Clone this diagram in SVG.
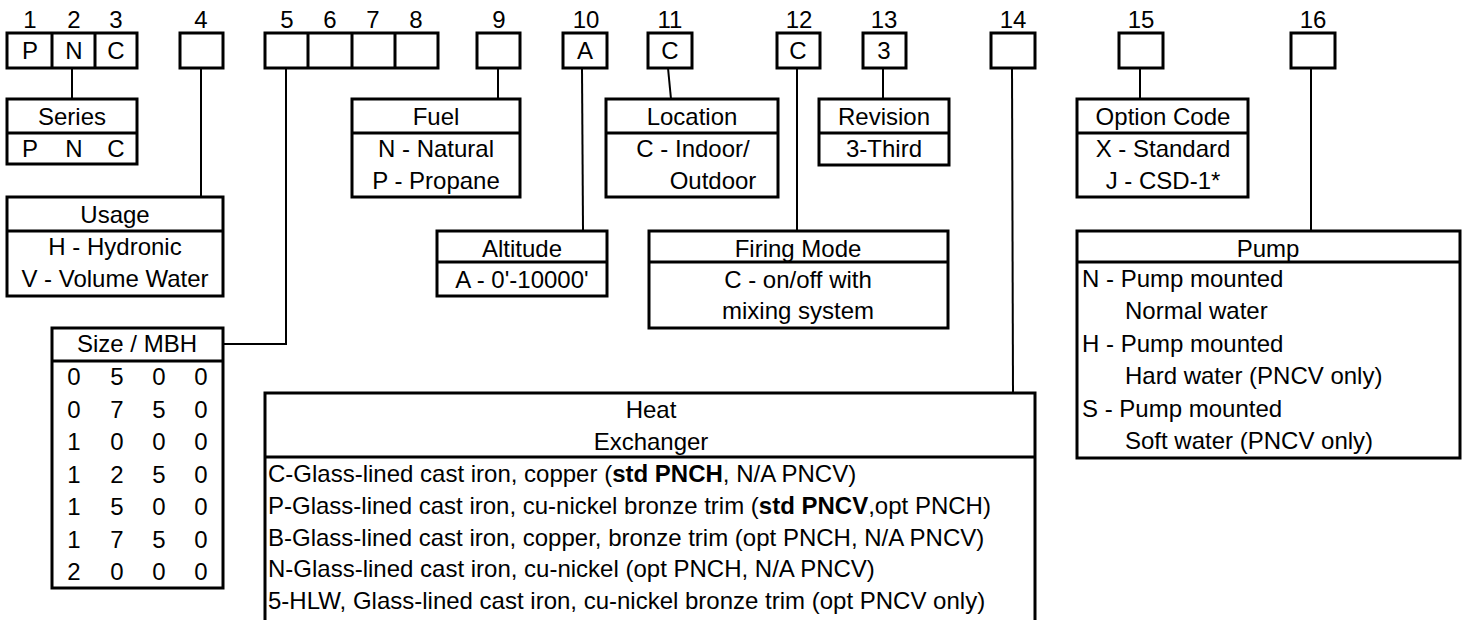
<svg xmlns="http://www.w3.org/2000/svg" width="1470" height="620" viewBox="0 0 1470 620">
<style>
text{font-family:"Liberation Sans",Arial,sans-serif;font-size:24px;fill:#000}
.c{text-anchor:middle}
.b{font-weight:bold}
.box{fill:#fff;stroke:#000;stroke-width:3}
.div{stroke:#000;stroke-width:3;fill:none}
.con{stroke:#000;stroke-width:2;fill:none}
</style>
<rect width="1470" height="620" fill="#fff"/>
<g id="connectors">
<path class="con" d="M72 68V99"/>
<path class="con" d="M201 68V197"/>
<path class="con" d="M286 68V344H223"/>
<path class="con" d="M498 68V99"/>
<path class="con" d="M582 68L583 231"/>
<path class="con" d="M668 68L671 99"/>
<path class="con" d="M797 68V231"/>
<path class="con" d="M883 68V99"/>
<path class="con" d="M1012 68L1013 393"/>
<path class="con" d="M1140 68V99"/>
<path class="con" d="M1311 68V231"/>
</g>
<g id="positions">
<text class="c" x="30" y="28">1</text>
<text class="c" x="74" y="28">2</text>
<text class="c" x="116" y="28">3</text>
<text class="c" x="201" y="28">4</text>
<text class="c" x="287" y="28">5</text>
<text class="c" x="330" y="28">6</text>
<text class="c" x="373" y="28">7</text>
<text class="c" x="416" y="28">8</text>
<text class="c" x="499" y="28">9</text>
<text class="c" x="586" y="28">10</text>
<text class="c" x="670" y="28">11</text>
<text class="c" x="799" y="28">12</text>
<text class="c" x="884" y="28">13</text>
<text class="c" x="1013" y="28">14</text>
<text class="c" x="1141" y="28">15</text>
<text class="c" x="1313" y="28">16</text>
</g>
<g id="code-1-3">
<rect class="box" x="7" y="33" width="130" height="35"/>
<path class="div" d="M52 33V68M95 33V68"/>
<text class="c" x="30" y="59">P</text>
<text class="c" x="74" y="59">N</text>
<text class="c" x="116" y="59">C</text>
</g>
<g id="code-4"><rect class="box" x="180" y="33" width="43" height="35"/></g>
<g id="code-5-8">
<rect class="box" x="265" y="33" width="173" height="35"/>
<path class="div" d="M308 33V68M352 33V68M395 33V68"/>
</g>
<g id="code-9"><rect class="box" x="477" y="33" width="43" height="35"/></g>
<g id="code-10"><rect class="box" x="563" y="33" width="44" height="35"/><text class="c" x="585" y="59">A</text></g>
<g id="code-11"><rect class="box" x="648" y="33" width="44" height="35"/><text class="c" x="670" y="59">C</text></g>
<g id="code-12"><rect class="box" x="777" y="33" width="43" height="35"/><text class="c" x="798" y="59">C</text></g>
<g id="code-13"><rect class="box" x="863" y="33" width="43" height="35"/><text class="c" x="884" y="59">3</text></g>
<g id="code-14"><rect class="box" x="991" y="33" width="44" height="35"/></g>
<g id="code-15"><rect class="box" x="1119" y="33" width="44" height="35"/></g>
<g id="code-16"><rect class="box" x="1291" y="33" width="44" height="35"/></g>

<g id="series">
<rect class="box" x="7" y="99" width="130" height="65"/>
<path class="div" d="M7 133H137"/>
<text class="c" x="72" y="125">Series</text>
<text class="c" x="30" y="157">P</text>
<text class="c" x="74" y="157">N</text>
<text class="c" x="116" y="157">C</text>
</g>
<g id="usage">
<rect class="box" x="7" y="197" width="216" height="99"/>
<path class="div" d="M7 231H223"/>
<text class="c" x="115" y="223">Usage</text>
<text class="c" x="115" y="255">H - Hydronic</text>
<text class="c" x="115" y="287">V - Volume Water</text>
</g>
<g id="size">
<rect class="box" x="52" y="328" width="171" height="260"/>
<path class="div" d="M52 361H223"/>
<text class="c" x="137" y="352">Size / MBH</text>
<text class="c" x="74" y="385">0</text><text class="c" x="117" y="385">5</text><text class="c" x="159" y="385">0</text><text class="c" x="201" y="385">0</text>
<text class="c" x="74" y="418">0</text><text class="c" x="117" y="418">7</text><text class="c" x="159" y="418">5</text><text class="c" x="201" y="418">0</text>
<text class="c" x="74" y="450">1</text><text class="c" x="117" y="450">0</text><text class="c" x="159" y="450">0</text><text class="c" x="201" y="450">0</text>
<text class="c" x="74" y="483">1</text><text class="c" x="117" y="483">2</text><text class="c" x="159" y="483">5</text><text class="c" x="201" y="483">0</text>
<text class="c" x="74" y="515">1</text><text class="c" x="117" y="515">5</text><text class="c" x="159" y="515">0</text><text class="c" x="201" y="515">0</text>
<text class="c" x="74" y="548">1</text><text class="c" x="117" y="548">7</text><text class="c" x="159" y="548">5</text><text class="c" x="201" y="548">0</text>
<text class="c" x="74" y="580">2</text><text class="c" x="117" y="580">0</text><text class="c" x="159" y="580">0</text><text class="c" x="201" y="580">0</text>
</g>
<g id="fuel">
<rect class="box" x="352" y="99" width="168" height="98"/>
<path class="div" d="M352 133H520"/>
<text class="c" x="436" y="125">Fuel</text>
<text class="c" x="436" y="157">N - Natural</text>
<text class="c" x="436" y="189">P - Propane</text>
</g>
<g id="location">
<rect class="box" x="606" y="99" width="172" height="98"/>
<path class="div" d="M606 133H778"/>
<text class="c" x="692" y="125">Location</text>
<text class="c" x="693" y="157">C - Indoor/</text>
<text class="c" x="713" y="189">Outdoor</text>
</g>
<g id="revision">
<rect class="box" x="819" y="99" width="130" height="66"/>
<path class="div" d="M819 133H949"/>
<text class="c" x="884" y="125">Revision</text>
<text class="c" x="884" y="157">3-Third</text>
</g>
<g id="option-code">
<rect class="box" x="1077" y="99" width="171" height="98"/>
<path class="div" d="M1077 133H1248"/>
<text class="c" x="1163" y="125">Option Code</text>
<text class="c" x="1163" y="157">X - Standard</text>
<text class="c" x="1163" y="189">J - CSD-1*</text>
</g>
<g id="altitude">
<rect class="box" x="437" y="231" width="170" height="65"/>
<path class="div" d="M437 262H607"/>
<text class="c" x="522" y="257">Altitude</text>
<text class="c" x="522" y="288">A - 0'-10000'</text>
</g>
<g id="firing-mode">
<rect class="box" x="649" y="231" width="299" height="97"/>
<path class="div" d="M649 262H948"/>
<text class="c" x="798" y="257">Firing Mode</text>
<text class="c" x="798" y="288">C - on/off with</text>
<text class="c" x="798" y="319">mixing system</text>
</g>
<g id="pump">
<rect class="box" x="1077" y="231" width="383" height="227"/>
<path class="div" d="M1077 262H1460"/>
<text class="c" x="1268" y="257">Pump</text>
<text x="1082" y="287">N - Pump mounted</text>
<text x="1125" y="319">Normal water</text>
<text x="1082" y="352">H - Pump mounted</text>
<text x="1125" y="384">Hard water (PNCV only)</text>
<text x="1082" y="417">S - Pump mounted</text>
<text x="1125" y="449">Soft water (PNCV only)</text>
</g>
<g id="heat-exchanger">
<rect class="box" x="265" y="393" width="770" height="240"/>
<path class="div" d="M265 457H1035"/>
<text class="c" x="651" y="418">Heat</text>
<text class="c" x="651" y="450">Exchanger</text>
<text x="268" y="482">C-Glass-lined cast iron, copper (<tspan class="b">std PNCH</tspan>, N/A PNCV)</text>
<text x="268" y="514">P-Glass-lined cast iron, cu-nickel bronze trim (<tspan class="b">std PNCV</tspan>,opt PNCH)</text>
<text x="268" y="546">B-Glass-lined cast iron, copper, bronze trim (opt PNCH, N/A PNCV)</text>
<text x="268" y="577">N-Glass-lined cast iron, cu-nickel (opt PNCH, N/A PNCV)</text>
<text x="268" y="609">5-HLW, Glass-lined cast iron, cu-nickel bronze trim (opt PNCV only)</text>
</g>
</svg>
